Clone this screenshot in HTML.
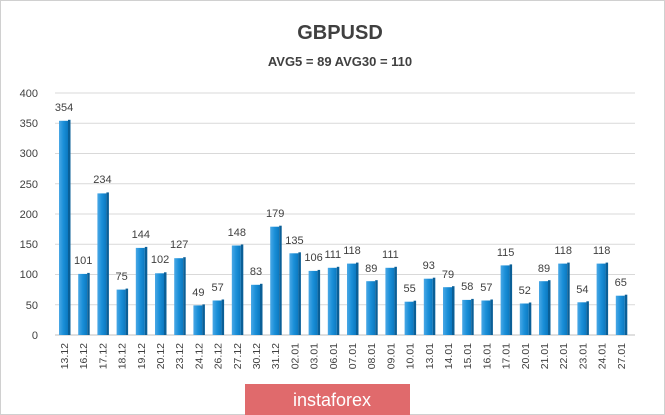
<!DOCTYPE html>
<html><head><meta charset="utf-8"><style>
html,body{margin:0;padding:0;background:#fff;}
svg{display:block;font-family:"Liberation Sans",sans-serif;}
</style></head><body>
<svg width="665" height="415" viewBox="0 0 665 415">
<defs>
<linearGradient id="bg" x1="0" x2="1" y1="0" y2="0">
<stop offset="0" stop-color="#4aa8e6"/><stop offset="0.5" stop-color="#1a8fd8"/><stop offset="1" stop-color="#0b78c0"/>
</linearGradient>
</defs>
<rect x="0.5" y="0.5" width="664" height="414" fill="#fff" stroke="#d0d0d0"/>
<text x="340" y="39" text-anchor="middle" font-size="20" font-weight="bold" fill="#404040">GBPUSD</text>
<text x="340" y="66" text-anchor="middle" font-size="13" font-weight="bold" fill="#404040">AVG5 = 89 AVG30 = 110</text>
<g stroke="#d9d9d9" stroke-width="1">
<line x1="55" y1="335" x2="635" y2="335" stroke="#bfbfbf"/>
<line x1="55" y1="304.75" x2="635" y2="304.75"/>
<line x1="55" y1="274.5" x2="635" y2="274.5"/>
<line x1="55" y1="244.25" x2="635" y2="244.25"/>
<line x1="55" y1="214" x2="635" y2="214"/>
<line x1="55" y1="183.75" x2="635" y2="183.75"/>
<line x1="55" y1="153.5" x2="635" y2="153.5"/>
<line x1="55" y1="123.25" x2="635" y2="123.25"/>
<line x1="55" y1="93" x2="635" y2="93"/>
</g>
<g font-size="11" fill="#404040" text-anchor="end">
<text x="38" y="339">0</text><text x="38" y="309">50</text><text x="38" y="278">100</text><text x="38" y="248">150</text><text x="38" y="218">200</text><text x="38" y="188">250</text><text x="38" y="157">300</text><text x="38" y="127">350</text><text x="38" y="97">400</text>
</g>
<g id="bars">
<g transform="translate(59,0)"><rect y="120.8" width="9" height="214.2" fill="url(#bg)"/><rect x="9" y="119.8" width="2.5" height="215.2" fill="#0a5f97"/><text x="5" y="111" font-size="11" text-anchor="middle" fill="#404040">354</text><text transform="translate(9,343) rotate(-90)" font-size="10.5" text-anchor="end" fill="#404040">13.12</text></g>
<g transform="translate(78.2,0)"><rect y="273.9" width="9" height="61.1" fill="url(#bg)"/><rect x="9" y="272.9" width="2.5" height="62.1" fill="#0a5f97"/><text x="5" y="264" font-size="11" text-anchor="middle" fill="#404040">101</text><text transform="translate(9,343) rotate(-90)" font-size="10.5" text-anchor="end" fill="#404040">16.12</text></g>
<g transform="translate(97.4,0)"><rect y="193.4" width="9" height="141.6" fill="url(#bg)"/><rect x="9" y="192.4" width="2.5" height="142.6" fill="#0a5f97"/><text x="5" y="183" font-size="11" text-anchor="middle" fill="#404040">234</text><text transform="translate(9,343) rotate(-90)" font-size="10.5" text-anchor="end" fill="#404040">17.12</text></g>
<g transform="translate(116.6,0)"><rect y="289.6" width="9" height="45.4" fill="url(#bg)"/><rect x="9" y="288.6" width="2.5" height="46.4" fill="#0a5f97"/><text x="5" y="280" font-size="11" text-anchor="middle" fill="#404040">75</text><text transform="translate(9,343) rotate(-90)" font-size="10.5" text-anchor="end" fill="#404040">18.12</text></g>
<g transform="translate(135.8,0)"><rect y="247.9" width="9" height="87.1" fill="url(#bg)"/><rect x="9" y="246.9" width="2.5" height="88.1" fill="#0a5f97"/><text x="5" y="238" font-size="11" text-anchor="middle" fill="#404040">144</text><text transform="translate(9,343) rotate(-90)" font-size="10.5" text-anchor="end" fill="#404040">19.12</text></g>
<g transform="translate(155,0)"><rect y="273.3" width="9" height="61.7" fill="url(#bg)"/><rect x="9" y="272.3" width="2.5" height="62.7" fill="#0a5f97"/><text x="5" y="263" font-size="11" text-anchor="middle" fill="#404040">102</text><text transform="translate(9,343) rotate(-90)" font-size="10.5" text-anchor="end" fill="#404040">20.12</text></g>
<g transform="translate(174.2,0)"><rect y="258.2" width="9" height="76.8" fill="url(#bg)"/><rect x="9" y="257.2" width="2.5" height="77.8" fill="#0a5f97"/><text x="5" y="248" font-size="11" text-anchor="middle" fill="#404040">127</text><text transform="translate(9,343) rotate(-90)" font-size="10.5" text-anchor="end" fill="#404040">23.12</text></g>
<g transform="translate(193.4,0)"><rect y="305.4" width="9" height="29.6" fill="url(#bg)"/><rect x="9" y="304.4" width="2.5" height="30.6" fill="#0a5f97"/><text x="5" y="296" font-size="11" text-anchor="middle" fill="#404040">49</text><text transform="translate(9,343) rotate(-90)" font-size="10.5" text-anchor="end" fill="#404040">24.12</text></g>
<g transform="translate(212.6,0)"><rect y="300.5" width="9" height="34.5" fill="url(#bg)"/><rect x="9" y="299.5" width="2.5" height="35.5" fill="#0a5f97"/><text x="5" y="291" font-size="11" text-anchor="middle" fill="#404040">57</text><text transform="translate(9,343) rotate(-90)" font-size="10.5" text-anchor="end" fill="#404040">26.12</text></g>
<g transform="translate(231.8,0)"><rect y="245.5" width="9" height="89.5" fill="url(#bg)"/><rect x="9" y="244.5" width="2.5" height="90.5" fill="#0a5f97"/><text x="5" y="236" font-size="11" text-anchor="middle" fill="#404040">148</text><text transform="translate(9,343) rotate(-90)" font-size="10.5" text-anchor="end" fill="#404040">27.12</text></g>
<g transform="translate(251,0)"><rect y="284.8" width="9" height="50.2" fill="url(#bg)"/><rect x="9" y="283.8" width="2.5" height="51.2" fill="#0a5f97"/><text x="5" y="275" font-size="11" text-anchor="middle" fill="#404040">83</text><text transform="translate(9,343) rotate(-90)" font-size="10.5" text-anchor="end" fill="#404040">30.12</text></g>
<g transform="translate(270.2,0)"><rect y="226.7" width="9" height="108.3" fill="url(#bg)"/><rect x="9" y="225.7" width="2.5" height="109.3" fill="#0a5f97"/><text x="5" y="217" font-size="11" text-anchor="middle" fill="#404040">179</text><text transform="translate(9,343) rotate(-90)" font-size="10.5" text-anchor="end" fill="#404040">31.12</text></g>
<g transform="translate(289.4,0)"><rect y="253.3" width="9" height="81.7" fill="url(#bg)"/><rect x="9" y="252.3" width="2.5" height="82.7" fill="#0a5f97"/><text x="5" y="244" font-size="11" text-anchor="middle" fill="#404040">135</text><text transform="translate(9,343) rotate(-90)" font-size="10.5" text-anchor="end" fill="#404040">02.01</text></g>
<g transform="translate(308.6,0)"><rect y="270.9" width="9" height="64.1" fill="url(#bg)"/><rect x="9" y="269.9" width="2.5" height="65.1" fill="#0a5f97"/><text x="5" y="261" font-size="11" text-anchor="middle" fill="#404040">106</text><text transform="translate(9,343) rotate(-90)" font-size="10.5" text-anchor="end" fill="#404040">03.01</text></g>
<g transform="translate(327.8,0)"><rect y="267.8" width="9" height="67.2" fill="url(#bg)"/><rect x="9" y="266.8" width="2.5" height="68.2" fill="#0a5f97"/><text x="5" y="258" font-size="11" text-anchor="middle" fill="#404040">111</text><text transform="translate(9,343) rotate(-90)" font-size="10.5" text-anchor="end" fill="#404040">06.01</text></g>
<g transform="translate(347,0)"><rect y="263.6" width="9" height="71.4" fill="url(#bg)"/><rect x="9" y="262.6" width="2.5" height="72.4" fill="#0a5f97"/><text x="5" y="254" font-size="11" text-anchor="middle" fill="#404040">118</text><text transform="translate(9,343) rotate(-90)" font-size="10.5" text-anchor="end" fill="#404040">07.01</text></g>
<g transform="translate(366.2,0)"><rect y="281.2" width="9" height="53.8" fill="url(#bg)"/><rect x="9" y="280.2" width="2.5" height="54.8" fill="#0a5f97"/><text x="5" y="272" font-size="11" text-anchor="middle" fill="#404040">89</text><text transform="translate(9,343) rotate(-90)" font-size="10.5" text-anchor="end" fill="#404040">08.01</text></g>
<g transform="translate(385.4,0)"><rect y="267.8" width="9" height="67.2" fill="url(#bg)"/><rect x="9" y="266.8" width="2.5" height="68.2" fill="#0a5f97"/><text x="5" y="258" font-size="11" text-anchor="middle" fill="#404040">111</text><text transform="translate(9,343) rotate(-90)" font-size="10.5" text-anchor="end" fill="#404040">09.01</text></g>
<g transform="translate(404.6,0)"><rect y="301.7" width="9" height="33.3" fill="url(#bg)"/><rect x="9" y="300.7" width="2.5" height="34.3" fill="#0a5f97"/><text x="5" y="292" font-size="11" text-anchor="middle" fill="#404040">55</text><text transform="translate(9,343) rotate(-90)" font-size="10.5" text-anchor="end" fill="#404040">10.01</text></g>
<g transform="translate(423.8,0)"><rect y="278.7" width="9" height="56.3" fill="url(#bg)"/><rect x="9" y="277.7" width="2.5" height="57.3" fill="#0a5f97"/><text x="5" y="269" font-size="11" text-anchor="middle" fill="#404040">93</text><text transform="translate(9,343) rotate(-90)" font-size="10.5" text-anchor="end" fill="#404040">13.01</text></g>
<g transform="translate(443,0)"><rect y="287.2" width="9" height="47.8" fill="url(#bg)"/><rect x="9" y="286.2" width="2.5" height="48.8" fill="#0a5f97"/><text x="5" y="278" font-size="11" text-anchor="middle" fill="#404040">79</text><text transform="translate(9,343) rotate(-90)" font-size="10.5" text-anchor="end" fill="#404040">14.01</text></g>
<g transform="translate(462.2,0)"><rect y="299.9" width="9" height="35.1" fill="url(#bg)"/><rect x="9" y="298.9" width="2.5" height="36.1" fill="#0a5f97"/><text x="5" y="290" font-size="11" text-anchor="middle" fill="#404040">58</text><text transform="translate(9,343) rotate(-90)" font-size="10.5" text-anchor="end" fill="#404040">15.01</text></g>
<g transform="translate(481.4,0)"><rect y="300.5" width="9" height="34.5" fill="url(#bg)"/><rect x="9" y="299.5" width="2.5" height="35.5" fill="#0a5f97"/><text x="5" y="291" font-size="11" text-anchor="middle" fill="#404040">57</text><text transform="translate(9,343) rotate(-90)" font-size="10.5" text-anchor="end" fill="#404040">16.01</text></g>
<g transform="translate(500.6,0)"><rect y="265.4" width="9" height="69.6" fill="url(#bg)"/><rect x="9" y="264.4" width="2.5" height="70.6" fill="#0a5f97"/><text x="5" y="256" font-size="11" text-anchor="middle" fill="#404040">115</text><text transform="translate(9,343) rotate(-90)" font-size="10.5" text-anchor="end" fill="#404040">17.01</text></g>
<g transform="translate(519.8,0)"><rect y="303.5" width="9" height="31.5" fill="url(#bg)"/><rect x="9" y="302.5" width="2.5" height="32.5" fill="#0a5f97"/><text x="5" y="294" font-size="11" text-anchor="middle" fill="#404040">52</text><text transform="translate(9,343) rotate(-90)" font-size="10.5" text-anchor="end" fill="#404040">20.01</text></g>
<g transform="translate(539,0)"><rect y="281.2" width="9" height="53.8" fill="url(#bg)"/><rect x="9" y="280.2" width="2.5" height="54.8" fill="#0a5f97"/><text x="5" y="272" font-size="11" text-anchor="middle" fill="#404040">89</text><text transform="translate(9,343) rotate(-90)" font-size="10.5" text-anchor="end" fill="#404040">21.01</text></g>
<g transform="translate(558.2,0)"><rect y="263.6" width="9" height="71.4" fill="url(#bg)"/><rect x="9" y="262.6" width="2.5" height="72.4" fill="#0a5f97"/><text x="5" y="254" font-size="11" text-anchor="middle" fill="#404040">118</text><text transform="translate(9,343) rotate(-90)" font-size="10.5" text-anchor="end" fill="#404040">22.01</text></g>
<g transform="translate(577.4,0)"><rect y="302.3" width="9" height="32.7" fill="url(#bg)"/><rect x="9" y="301.3" width="2.5" height="33.7" fill="#0a5f97"/><text x="5" y="293" font-size="11" text-anchor="middle" fill="#404040">54</text><text transform="translate(9,343) rotate(-90)" font-size="10.5" text-anchor="end" fill="#404040">23.01</text></g>
<g transform="translate(596.6,0)"><rect y="263.6" width="9" height="71.4" fill="url(#bg)"/><rect x="9" y="262.6" width="2.5" height="72.4" fill="#0a5f97"/><text x="5" y="254" font-size="11" text-anchor="middle" fill="#404040">118</text><text transform="translate(9,343) rotate(-90)" font-size="10.5" text-anchor="end" fill="#404040">24.01</text></g>
<g transform="translate(615.8,0)"><rect y="295.7" width="9" height="39.3" fill="url(#bg)"/><rect x="9" y="294.7" width="2.5" height="40.3" fill="#0a5f97"/><text x="5" y="286" font-size="11" text-anchor="middle" fill="#404040">65</text><text transform="translate(9,343) rotate(-90)" font-size="10.5" text-anchor="end" fill="#404040">27.01</text></g>
</g>
<rect x="245" y="384" width="165" height="31" fill="#e06a6c"/>
<text x="332" y="406" text-anchor="middle" font-size="18" fill="#fff">instaforex</text>
</svg>
</body></html>
